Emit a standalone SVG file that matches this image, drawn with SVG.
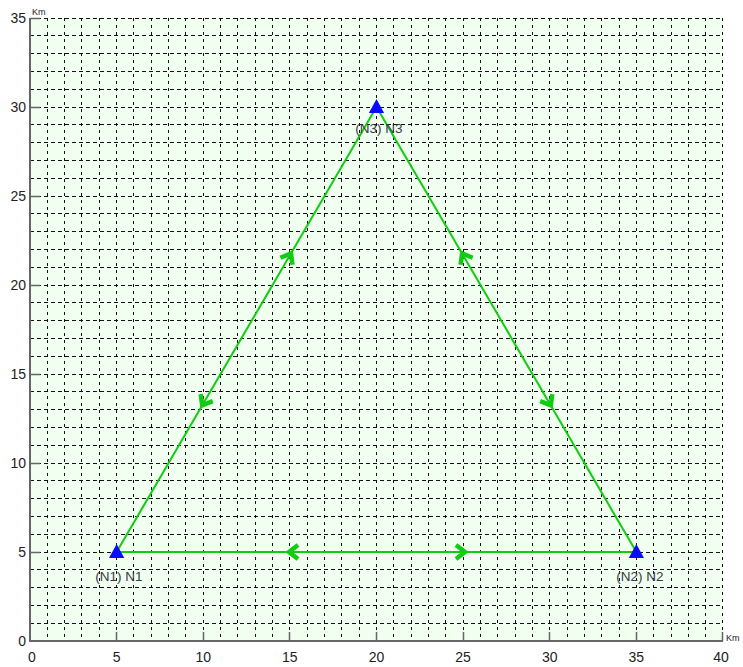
<svg xmlns="http://www.w3.org/2000/svg" width="743" height="667" viewBox="0 0 743 667">
<defs>
<style>
.grid{stroke:#111;stroke-width:1;fill:none;shape-rendering:crispEdges}
.gv{stroke-dasharray:3,4}
.gh{stroke-dasharray:4,3}
.axis{stroke:#666;stroke-width:2;fill:none}
.tick{stroke:#666;stroke-width:1.5}
.lbl{font-family:"Liberation Sans",Arial,sans-serif;font-size:14px;fill:#222}
.unit{font-family:"Liberation Sans",Arial,sans-serif;font-size:9px;fill:#222}
.nlbl{font-family:"Liberation Sans",Arial,sans-serif;font-size:13.5px;fill:#3a3a4a;text-anchor:middle}
.edge{stroke:#11cc11;stroke-width:2;fill:none}
.node{fill:#0a0aff}
</style>
<path id="chev" d="M-9,-7 L0,0 L-9,7" stroke="#11cc11" stroke-width="4.5" fill="none" stroke-linejoin="miter"/>
</defs>
<rect x="0" y="0" width="743" height="667" fill="#fff"/>
<rect x="30" y="18" width="693" height="623" fill="#f0fff0"/>
<g id="grid">
<path class="grid gv" d="M47.5,18V641M64.5,18V641M81.5,18V641M99.5,18V641M116.5,18V641M133.5,18V641M151.5,18V641M168.5,18V641M185.5,18V641M203.5,18V641M220.5,18V641M237.5,18V641M255.5,18V641M272.5,18V641M289.5,18V641M307.5,18V641M324.5,18V641M341.5,18V641M359.5,18V641M376.5,18V641M393.5,18V641M411.5,18V641M428.5,18V641M445.5,18V641M463.5,18V641M480.5,18V641M497.5,18V641M515.5,18V641M532.5,18V641M549.5,18V641M567.5,18V641M584.5,18V641M601.5,18V641M619.5,18V641M636.5,18V641M653.5,18V641M671.5,18V641M688.5,18V641M705.5,18V641M722.5,18V641"/>
<path class="grid gh" d="M30,623.5H723M30,605.5H723M30,587.5H723M30,569.5H723M30,552.5H723M30,534.5H723M30,516.5H723M30,498.5H723M30,480.5H723M30,463.5H723M30,445.5H723M30,427.5H723M30,409.5H723M30,391.5H723M30,374.5H723M30,356.5H723M30,338.5H723M30,320.5H723M30,302.5H723M30,285.5H723M30,267.5H723M30,249.5H723M30,231.5H723M30,213.5H723M30,196.5H723M30,178.5H723M30,160.5H723M30,142.5H723M30,124.5H723M30,107.5H723M30,89.5H723M30,71.5H723M30,53.5H723M30,35.5H723M30,18.5H723"/>
</g>
<g id="axes">
<path class="axis" d="M30,18V641H723"/>
<path class="tick" d="M30,18.5H40M30,107.5H40M30,196.5H40M30,285.5H40M30,374.5H40M30,463.5H40M30,552.5H40M116.5,641V632M203.5,641V632M289.5,641V632M376.5,641V632M463.5,641V632M549.5,641V632M636.5,641V632M722.5,641V632"/>
<g class="lbl" text-anchor="end">
<text x="26" y="23">35</text><text x="26" y="112">30</text><text x="26" y="201">25</text><text x="26" y="290">20</text><text x="26" y="379">15</text><text x="26" y="468">10</text><text x="26" y="557">5</text><text x="26" y="646">0</text>
</g>
<g class="lbl" text-anchor="middle">
<text x="32" y="662">0</text><text x="116.63" y="662">5</text><text x="203.25" y="662">10</text><text x="289.88" y="662">15</text><text x="376.5" y="662">20</text><text x="463.13" y="662">25</text><text x="549.75" y="662">30</text><text x="636.38" y="662">35</text><text x="721" y="662">40</text>
</g>
<text class="unit" x="32" y="15">Km</text>
<text class="unit" x="726" y="641">Km</text>
</g>
<g id="connectors">
<path class="edge" d="M116.63,552H636.38"/>
<path class="edge" d="M116.63,552L376.5,107"/>
<path class="edge" d="M376.5,107L636.38,552"/>
<use href="#chev" transform="translate(289,552) rotate(180)"/>
<use href="#chev" transform="translate(465,552)"/>
<use href="#chev" transform="translate(202.2,405.4) rotate(120.3)"/>
<use href="#chev" transform="translate(291,253.5) rotate(-59.7)"/>
<use href="#chev" transform="translate(462.1,253.5) rotate(-120.3)"/>
<use href="#chev" transform="translate(550.8,405.4) rotate(59.7)"/>
</g>
<g id="N1">
<polygon class="node" points="116.63,544 109,558 124.3,558"/>
<text class="nlbl" x="119" y="581">(N1) N1</text>
</g>
<g id="N2">
<polygon class="node" points="636.38,544 628.8,558 644,558"/>
<text class="nlbl" x="640" y="581">(N2) N2</text>
</g>
<g id="N3">
<polygon class="node" points="376.5,99 368.9,113 384.1,113"/>
<text class="nlbl" x="379" y="133">(N3) N3</text>
</g>
</svg>
